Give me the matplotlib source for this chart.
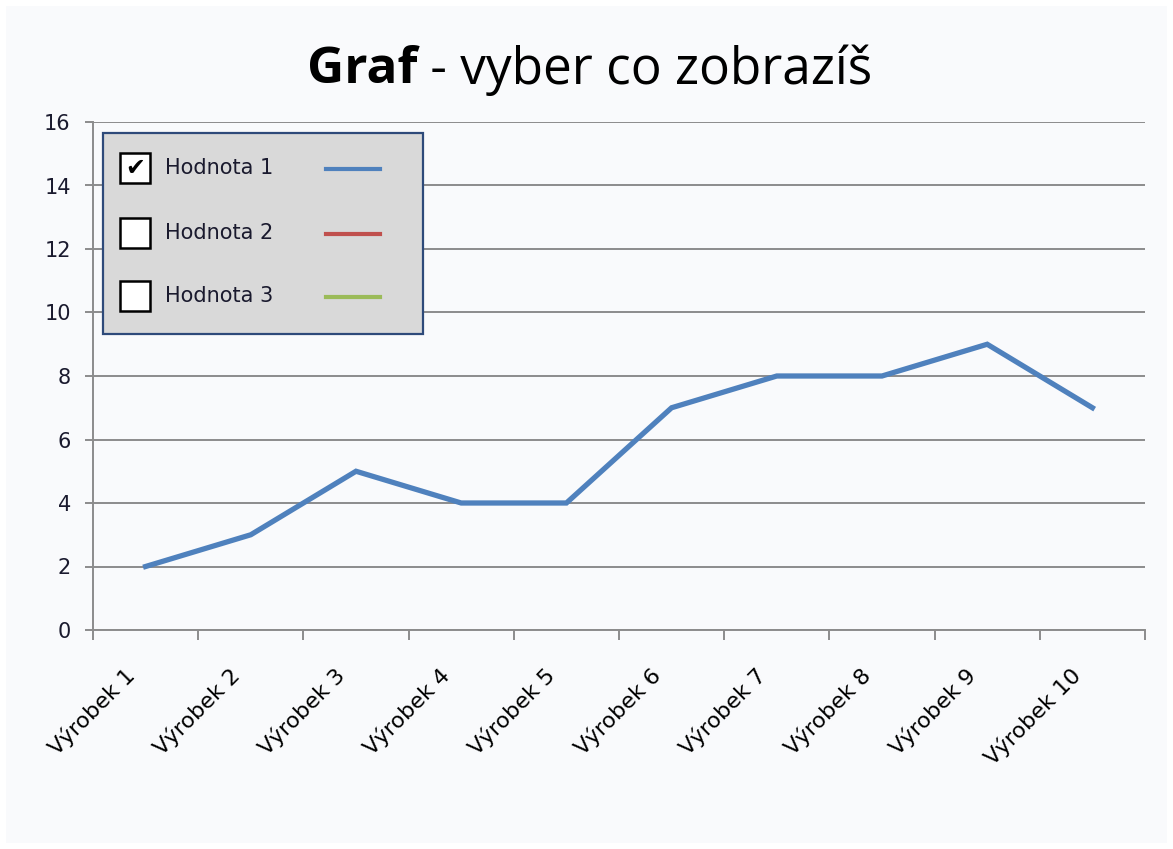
import matplotlib
matplotlib.use("Agg")
import matplotlib.pyplot as plt
from matplotlib.patches import Rectangle
from matplotlib.lines import Line2D
from matplotlib.transforms import ScaledTranslation
import numpy as np

categories = ["Výrobek 1", "Výrobek 2", "Výrobek 3", "Výrobek 4", "Výrobek 5",
              "Výrobek 6", "Výrobek 7", "Výrobek 8", "Výrobek 9", "Výrobek 10"]
hodnota1 = [2, 3, 5, 4, 4, 7, 8, 8, 9, 7]
series_names = ["Hodnota 1", "Hodnota 2", "Hodnota 3"]
series_colors = ["#4F81BD", "#C0504D", "#9BBB59"]
series_checked = [True, False, False]
yticks = [0, 2, 4, 6, 8, 10, 12, 14, 16]

W, H = 1173, 849
fig = plt.figure(figsize=(W / 100, H / 100), dpi=100)
bg = "#F9FAFC"
fig.patch.set_facecolor("white")
fig.patches.append(Rectangle((6 / W, 6 / H), (W - 12) / W, (H - 12) / H,
                             transform=fig.transFigure, facecolor=bg,
                             edgecolor="none", zorder=-10))

def fx(px):
    return px / W

def fy(py):
    return 1 - py / H

ax = fig.add_axes([fx(93), fy(630), fx(1145) - fx(93), fy(122) - fy(630)])
ax.set_facecolor("none")
n = len(categories)
x = np.arange(n)
ax.plot(x, hodnota1, color=series_colors[0], lw=3.8, solid_joinstyle="miter", zorder=3)
ax.set_xlim(-0.5, n - 0.5)
ax.set_ylim(0, 16)
ax.set_yticks(yticks)
ax.set_yticklabels([str(v) for v in yticks], fontsize=15, color="#1a1a2e", family="DejaVu Sans")
ax.yaxis.grid(True, color="#8C8C8C", lw=1.4)
ax.set_axisbelow(True)
ax.set_xticks(np.arange(n + 1) - 0.5)
ax.set_xticklabels([])
ax.set_xticks(x, minor=True)
ax.set_xticklabels(categories, minor=True, rotation=45, ha="right", va="top",
                   rotation_mode="anchor", fontsize=16, family="DejaVu Sans")
ax.tick_params(axis="x", which="minor", length=0, pad=16)
ax.tick_params(axis="x", which="major", length=7, color="#8C8C8C", width=1.4)
ax.tick_params(axis="y", length=6, color="#8C8C8C", width=1.4, pad=10)
shift = ScaledTranslation(-22 / 100, -12 / 100, fig.dpi_scale_trans)
for lbl in ax.get_xticklabels(minor=True):
    lbl.set_transform(lbl.get_transform() + shift)
for s in ["top", "right"]:
    ax.spines[s].set_visible(False)
for s in ["left", "bottom"]:
    ax.spines[s].set_color("#8C8C8C")
    ax.spines[s].set_linewidth(1.4)

# Legend / checkbox panel
fig.patches.append(Rectangle((fx(103), fy(334)), fx(423) - fx(103), fy(133) - fy(334),
                             transform=fig.transFigure, facecolor="#D9D9D9",
                             edgecolor="#2E4A7A", lw=1.6, zorder=5))
row_y = [168, 233, 296]
for name, col, chk, yy in zip(series_names, series_colors, series_checked, row_y):
    fig.patches.append(Rectangle((fx(120), fy(yy + 15)), fx(30), fy(0) - fy(30),
                                 transform=fig.transFigure, facecolor="white",
                                 edgecolor="black", lw=1.8, zorder=6))
    if chk:
        fig.text(fx(135), fy(yy), "✔", fontsize=17, ha="center", va="center",
                 color="black", zorder=7, family="DejaVu Sans")
    fig.text(fx(165), fy(yy), name, fontsize=15, ha="left", va="center",
             color="#1a1a2e", zorder=7, family="DejaVu Sans")
    fig.lines.append(Line2D([fx(326), fx(380)], [fy(yy + 1), fy(yy + 1)],
                            transform=fig.transFigure, color=col, lw=3, zorder=7))

# Title
t1 = fig.text(0, fy(70), "Graf", fontsize=37, fontweight="bold", family="Open Sans",
              va="center", ha="left")
t2 = fig.text(0, fy(70), " - vyber co zobrazíš", fontsize=37, family="Open Sans",
              va="center", ha="left")
fig.canvas.draw()
r = fig.canvas.get_renderer()
w1 = t1.get_window_extent(r).width
w2 = t2.get_window_extent(r).width
start = (W / 2 + 3 - (w1 + w2) / 2)
t1.set_x(start / W)
t2.set_x((start + w1) / W)

fig.savefig("out.png", dpi=100, facecolor=fig.get_facecolor())
